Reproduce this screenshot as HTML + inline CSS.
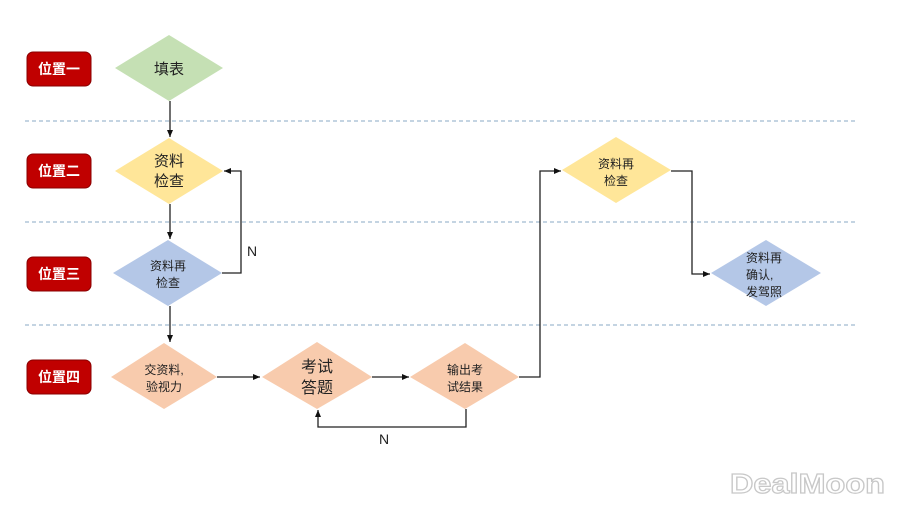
<!DOCTYPE html>
<html><head><meta charset="utf-8"><style>
html,body{margin:0;padding:0;background:#fff;}
svg{display:block;}
text{font-family:"Liberation Sans","Noto Sans CJK SC",sans-serif;}
</style></head><body>
<svg width="900" height="506" viewBox="0 0 900 506" xmlns="http://www.w3.org/2000/svg">
<defs>
<marker id="a" markerWidth="8" markerHeight="8" refX="7" refY="4" orient="auto" markerUnits="userSpaceOnUse">
<path d="M0,1 L7,4 L0,7 Z" fill="#111"/></marker>
</defs>
<g stroke="#8aa8c4" stroke-width="1" stroke-dasharray="4,3">
<line x1="25" y1="121" x2="856" y2="121"/>
<line x1="25" y1="222" x2="856" y2="222"/>
<line x1="25" y1="325" x2="856" y2="325"/>
</g>
<g fill="#c00000" stroke="#8a0000" stroke-width="1">
<rect x="27" y="52" width="64" height="34" rx="6"/>
<rect x="27" y="154" width="64" height="34" rx="6"/>
<rect x="27" y="257" width="64" height="34" rx="6"/>
<rect x="27" y="360" width="64" height="34" rx="6"/>
</g>
<g fill="#fff" font-size="14" font-weight="bold" text-anchor="middle">
<text x="59" y="74">位置一</text>
<text x="59" y="176">位置二</text>
<text x="59" y="279">位置三</text>
<text x="59" y="382">位置四</text>
</g>
<polygon points="115,68 169,35 223,68 169,101" fill="#c5e0b4"/>
<polygon points="115,171 169,138 223,171 169,204" fill="#ffe699"/>
<polygon points="113,273 168,240 222,273 168,306" fill="#b4c7e7"/>
<polygon points="111,377 164,343 217,377 164,409" fill="#f8cbad"/>
<polygon points="262,377 317,342 372,377 317,409" fill="#f8cbad"/>
<polygon points="410,377 465,343 519,377 465,409" fill="#f8cbad"/>
<polygon points="562,170 616,137 671,170 616,203" fill="#ffe699"/>
<polygon points="711,273 766,240 821,273 766,306" fill="#b4c7e7"/>
<g fill="#222" text-anchor="middle">
<text x="169" y="74" font-size="15">填表</text>
<text x="169" y="166" font-size="15">资料</text>
<text x="169" y="186" font-size="15">检查</text>
<text x="168" y="270" font-size="12">资料再</text>
<text x="168" y="287" font-size="12">检查</text>
<text x="164" y="374" font-size="12">交资料,</text>
<text x="164" y="391" font-size="12">验视力</text>
<text x="317" y="372" font-size="16">考试</text>
<text x="317" y="393" font-size="16">答题</text>
<text x="465" y="374" font-size="12">输出考</text>
<text x="465" y="391" font-size="12">试结果</text>
<text x="616" y="168" font-size="12">资料再</text>
<text x="616" y="185" font-size="12">检查</text>
<text x="252" y="256" font-size="14">N</text>
<text x="384" y="444" font-size="14">N</text>
</g>
<g fill="#222" font-size="12">
<text x="746" y="262">资料再</text>
<text x="746" y="279">确认,</text>
<text x="746" y="296">发驾照</text>
</g>
<g stroke="#222" stroke-width="1.3" fill="none" marker-end="url(#a)">
<line x1="170" y1="101" x2="170" y2="137"/>
<line x1="170" y1="204" x2="170" y2="239"/>
<polyline points="222,273 241,273 241,171 224,171"/>
<line x1="170" y1="306" x2="170" y2="342"/>
<line x1="217" y1="377" x2="260" y2="377"/>
<line x1="372" y1="377" x2="409" y2="377"/>
<polyline points="466,409 466,427 318,427 318,410"/>
<polyline points="519,377 540,377 540,171 561,171"/>
<polyline points="671,171 692,171 692,274 710,274"/>
</g>
<text x="730" y="493" font-size="28" font-weight="bold" textLength="155" lengthAdjust="spacingAndGlyphs" fill="#fff" stroke="#c8c8c8" stroke-width="1.2">DealMoon</text>
</svg>
</body></html>
